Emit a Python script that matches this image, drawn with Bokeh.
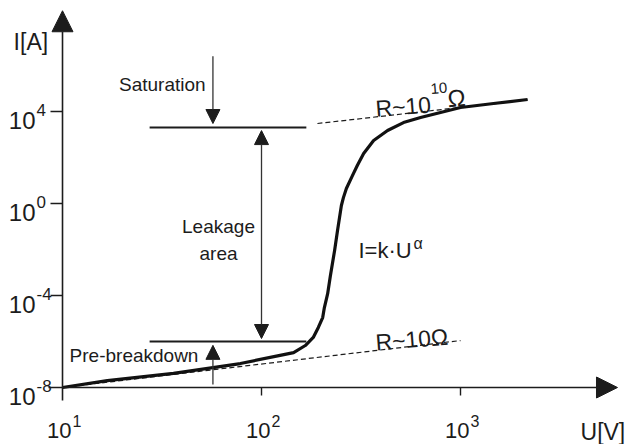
import numpy as np
from bokeh.plotting import figure
from bokeh.models import Range1d, Arrow, NormalHead
from bokeh.core.properties import value
from bokeh.embed import file_html
from bokeh.resources import INLINE

# ---------------- data ----------------
voltage = [10, 16.8, 36.1, 78.3, 124, 145, 166, 182, 193, 203, 207, 215, 222,
           233, 241, 252, 258, 267, 286, 303, 326, 366, 430, 517, 630, 1000,
           1466, 2173]
current = [1.0e-8, 2.0e-8, 4.1e-8, 1.1e-7, 2.5e-7, 3.3e-7, 6.7e-7, 1.5e-6,
           4.1e-6, 1.1e-5, 3.0e-5, 1.2e-4, 7.4e-4, 9.1e-3, 6.7e-2, 0.82, 1.8,
           4.5, 16, 45, 150, 550, 1500, 3300, 5500, 14900, 22300, 33300]

# asymptotes (dashed)
ohmic_low_U = [10, 1000]
ohmic_low_I = [1.0e-8, 1.1e-6]
ohmic_high_U = [191, 2173]
ohmic_high_I = [3.0e3, 3.2e4]

# level lines
level_U = [27.4, 168]
saturation_level = 2.0e3
prebreak_level = 1.0e-6

# indicator arrows
sat_arrow_U = 57
sat_arrow_I = [2.5e6, 3.0e3]
leak_arrow_U = 100
leak_arrow_I = [1.35e-6, 1480]
pre_arrow_U = 57
pre_arrow_I = [1.35e-8, 6.8e-7]

# axes
x_ticks = [10, 100, 1000]
x_tick_exp = ["1", "2", "3"]
y_ticks = [1e-8, 1e-4, 1, 1e4]
y_tick_exp = ["-8", "-4", "0", "4"]
axis_origin = (10, 1e-8)
x_axis_end = 6150
y_axis_end = 2.4e8

FONT = value("Liberation Sans")
INK = "#1c1c1c"
GREY = "#333333"
TILT = 0.08  # radians, slope of the resistance labels

p = figure(width=631, height=444, x_axis_type="log", y_axis_type="log",
           x_range=Range1d(10 ** 0.6884, 10 ** 3.8593),
           y_range=Range1d(10 ** -10.478, 10 ** 8.826),
           output_backend="svg", toolbar_location=None, min_border=0)
p.axis.visible = False
p.grid.visible = False
p.outline_line_color = None
p.background_fill_color = "white"
p.border_fill_color = "white"

ox, oy = axis_origin
# axis lines with arrowheads
p.add_layout(Arrow(x_start=ox, y_start=oy, x_end=x_axis_end, y_end=oy,
                   line_color=INK, line_width=1.6,
                   end=NormalHead(size=21, fill_color=INK, line_color=INK, line_width=1)))
p.add_layout(Arrow(x_start=ox, y_start=oy, x_end=ox, y_end=y_axis_end,
                   line_color=INK, line_width=1.6,
                   end=NormalHead(size=21, fill_color=INK, line_color=INK, line_width=1)))
# axis overshoots
p.ray(x=[ox], y=[oy], length=14, angle=np.pi, length_units="screen",
      line_color=INK, line_width=1.6)
p.ray(x=[ox], y=[oy], length=13, angle=-np.pi / 2, length_units="screen",
      line_color=INK, line_width=1.6)
# ticks
p.ray(x=x_ticks[1:], y=[oy] * (len(x_ticks) - 1), length=8, angle=-np.pi / 2,
      length_units="screen", line_color=INK, line_width=1.4)
p.ray(x=[ox] * (len(y_ticks) - 1), y=y_ticks[1:], length=12, angle=np.pi,
      length_units="screen", line_color=INK, line_width=1.4)

# tick labels: base "10" + superscript exponent
p.text(x=x_ticks, y=[oy] * len(x_ticks), text=["10"] * len(x_ticks),
       text_font=FONT, text_font_size="22px", text_align="right",
       text_baseline="alphabetic", x_offset=9, y_offset=43, text_color=INK)
p.text(x=x_ticks, y=[oy] * len(x_ticks), text=x_tick_exp,
       text_font=FONT, text_font_size="16px", text_align="left",
       text_baseline="alphabetic", x_offset=10, y_offset=33, text_color=INK)
p.text(x=[ox] * len(y_ticks), y=y_ticks, text=["10"] * len(y_ticks),
       text_font=FONT, text_font_size="24px", text_align="right",
       text_baseline="alphabetic", x_offset=-27, y_offset=9, text_color=INK)
p.text(x=[ox] * len(y_ticks), y=y_ticks, text=y_tick_exp,
       text_font=FONT, text_font_size="17px", text_align="left",
       text_baseline="alphabetic", x_offset=-26, y_offset=-2, text_color=INK)

# axis titles
p.text(x=[5.68], y=[1e7], text=["I[A]"], text_font=FONT, text_font_size="23px",
       text_align="left", text_baseline="alphabetic", text_color=INK)
p.text(x=[4010], y=[1.2e-10], text=["U[V]"], text_font=FONT, text_font_size="23px",
       text_align="left", text_baseline="alphabetic", text_color=INK)

# dashed asymptotes
p.line(ohmic_low_U, ohmic_low_I, line_color=INK, line_width=1.2, line_dash="5 3")
p.line(ohmic_high_U, ohmic_high_I, line_color=INK, line_width=1.2, line_dash="5 3")

# level lines
p.line(level_U, [saturation_level] * 2, line_color=INK, line_width=2)
p.line(level_U, [prebreak_level] * 2, line_color=INK, line_width=2)

# main curve
p.line(voltage, current, line_color="#111111", line_width=3.2, line_join="round")

# indicator arrows
def head():
    return NormalHead(size=14, fill_color=INK, line_color=INK, line_width=1)

p.add_layout(Arrow(x_start=sat_arrow_U, y_start=sat_arrow_I[0], x_end=sat_arrow_U,
                   y_end=sat_arrow_I[1], line_color=GREY, line_width=1.3, end=head()))
p.add_layout(Arrow(x_start=leak_arrow_U, y_start=leak_arrow_I[0], x_end=leak_arrow_U,
                   y_end=leak_arrow_I[1], line_color=GREY, line_width=1.3,
                   start=head(), end=head()))
p.add_layout(Arrow(x_start=pre_arrow_U, y_start=pre_arrow_I[0], x_end=pre_arrow_U,
                   y_end=pre_arrow_I[1], line_color=GREY, line_width=1.3, end=head()))

# annotations
p.text(x=[52.4], y=[1.5e5], text=["Saturation"], text_font=FONT, text_font_size="19px",
       text_align="right", text_baseline="middle", text_color=INK)
p.text(x=[60.8, 60.8], y=[0.1, 6.8e-3], text=["Leakage", "area"], text_font=FONT,
       text_font_size="19px", text_align="center", text_baseline="alphabetic",
       text_color=INK)
p.text(x=[48.2], y=[2.5e-7], text=["Pre-breakdown"], text_font=FONT,
       text_font_size="19px", text_align="right", text_baseline="middle", text_color=INK)
p.text(x=[307], y=[9.1e-3], text=["I=k\u00b7U"], text_font=FONT, text_font_size="22px",
       text_align="left", text_baseline="middle", text_color=INK)
p.text(x=[581], y=[0.018], text=["\u03b1"], text_font=FONT, text_font_size="16px",
       text_align="left", text_baseline="middle", text_color=INK)
p.text(x=[374], y=[9.05e-7], text=["R~10\u03a9"], text_font=FONT, text_font_size="23px",
       text_align="left", text_baseline="alphabetic", text_color=INK, angle=TILT)
p.text(x=[374], y=[1.3e4], text=["R~10"], text_font=FONT, text_font_size="23px",
       text_align="left", text_baseline="alphabetic", text_color=INK, angle=TILT)
p.text(x=[707], y=[9.5e4], text=["10"], text_font=FONT, text_font_size="15px",
       text_align="left", text_baseline="alphabetic", text_color=INK, angle=TILT)
p.text(x=[861], y=[3.6e4], text=["\u03a9"], text_font=FONT, text_font_size="24px",
       text_align="left", text_baseline="alphabetic", text_color=INK, angle=TILT)

open("out.html", "w").write(file_html(p, INLINE))
